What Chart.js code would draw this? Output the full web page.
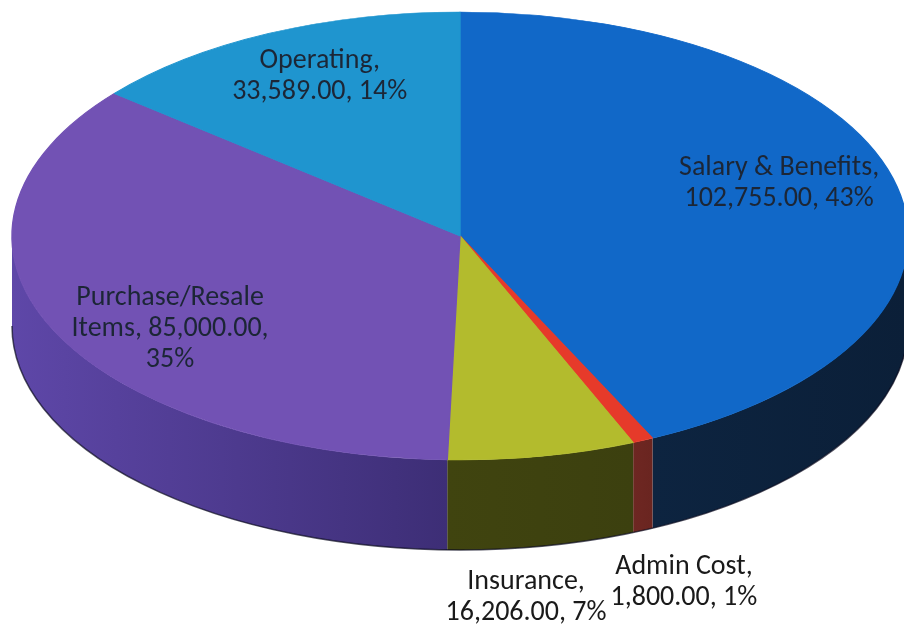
<!doctype html>
<html>
<head>
	<title>Expense Breakdown</title>
	<script src="https://cdn.jsdelivr.net/npm/chart.js@4.4.1/dist/chart.umd.min.js"></script>
	<style>
	html, body {
		margin: 0;
		padding: 0;
		background: #ffffff;
	}
	#container {
		width: 904px;
		height: 629px;
	}
	</style>
</head>
<body>
	<div id="container">
		<canvas id="canvas"></canvas>
	</div>
	<script>
		var categories = ['Salary & Benefits', 'Admin Cost', 'Insurance', 'Purchase/Resale Items', 'Operating'];
		var amounts = [102755, 1800, 16206, 85000, 33589];
		var percents = ['43%', '1%', '7%', '35%', '14%'];

		var topColors = ['#1168c8', '#e63a2a', '#b3bb2d', '#7252b4', '#1f95cf'];
		var sideColors = [
			['#0d2440', '#0b1f38'],
			['#6e2722', '#6a2520'],
			['#40440f', '#3c400f'],
			['#5e47a8', '#3d2e76'],
			['#15678f', '#15678f']
		];

		// where the tilted pie sits on the page
		var pie3d = {
			cx: 460,
			cy: 236,
			rx: 448,
			ry: 224,
			depth: 90
		};

		// small slices are labelled under the pie, the rest inside
		var labelNudge = [[-13, -15], [41, 52], [-16, 51], [20, 23], [5, -6]];

		var FONT = '28px Carlito, Lato, sans-serif';

		function fmt(v) {
			return v.toLocaleString('en-US', {minimumFractionDigits: 2, maximumFractionDigits: 2});
		}

		function wrap(ctx, text, maxWidth) {
			var words = text.split(' ');
			var lines = [];
			var line = '';
			words.forEach(function(w) {
				var test = line ? line + ' ' + w : w;
				if (line && ctx.measureText(test).width > maxWidth) {
					lines.push(line);
					line = w;
				} else {
					line = test;
				}
			});
			if (line) {
				lines.push(line);
			}
			return lines;
		}

		var tiltPlugin = {
			id: 'tilt',
			beforeDatasetsDraw: function(chart) {
				var ctx = chart.ctx;
				var arcs = chart.getDatasetMeta(0).data;
				var p = pie3d;

				// side walls on the front half of the ellipse
				arcs.forEach(function(arc, i) {
					var t0 = Math.max(arc.startAngle, 0);
					var t1 = Math.min(arc.endAngle, Math.PI);
					if (t1 <= t0) {
						return;
					}
					var x0 = p.cx + p.rx * Math.cos(t1);
					var x1 = p.cx + p.rx * Math.cos(t0);
					var grad = ctx.createLinearGradient(Math.min(x0, x1), 0, Math.max(x0, x1), 0);
					grad.addColorStop(0, sideColors[i][0]);
					grad.addColorStop(1, sideColors[i][1]);
					ctx.save();
					ctx.beginPath();
					ctx.ellipse(p.cx, p.cy, p.rx, p.ry, 0, t0, t1, false);
					ctx.ellipse(p.cx, p.cy + p.depth, p.rx, p.ry, 0, t1, t0, true);
					ctx.closePath();
					ctx.fillStyle = grad;
					ctx.fill();
					ctx.restore();
				});

				// thin dark rim along the bottom edge
				ctx.save();
				ctx.beginPath();
				ctx.ellipse(p.cx, p.cy + p.depth, p.rx, p.ry, 0, 0, Math.PI, false);
				ctx.strokeStyle = 'rgba(10,10,30,0.7)';
				ctx.lineWidth = 1.5;
				ctx.stroke();
				ctx.restore();

				// squash the round pie into the top face
				var a = arcs[0];
				ctx.save();
				ctx.translate(p.cx, p.cy);
				ctx.scale(p.rx / a.outerRadius, p.ry / a.outerRadius);
				ctx.translate(-a.x, -a.y);
			},
			afterDatasetsDraw: function(chart) {
				var ctx = chart.ctx;
				ctx.restore();

				var arcs = chart.getDatasetMeta(0).data;
				var total = amounts.reduce(function(s, v) { return s + v; }, 0);
				var p = pie3d;

				ctx.save();
				ctx.font = FONT;
				ctx.textAlign = 'center';
				ctx.textBaseline = 'middle';
				arcs.forEach(function(arc, i) {
					var mid = (arc.startAngle + arc.endAngle) / 2;
					var inside = amounts[i] / total >= 0.1;
					var x, y;
					if (inside) {
						x = p.cx + p.rx * 0.76 * Math.cos(mid);
						y = p.cy + p.ry * 0.76 * Math.sin(mid);
						ctx.fillStyle = '#1c2636';
					} else {
						x = p.cx + p.rx * Math.cos(mid);
						y = p.cy + p.ry * Math.sin(mid) + p.depth;
						ctx.fillStyle = '#1a1a1a';
					}
					x += labelNudge[i][0];
					y += labelNudge[i][1];
					var text = categories[i] + ', ' + fmt(amounts[i]) + ', ' + percents[i];
					var lines = wrap(ctx, text, 215);
					var lh = 31;
					var y0 = y - (lines.length - 1) * lh / 2;
					lines.forEach(function(l, k) {
						ctx.fillText(l, x, y0 + k * lh);
					});
				});
				ctx.restore();
			}
		};

		window.onload = function() {
			var ctx = document.getElementById('canvas').getContext('2d');
			window.myPie = new Chart(ctx, {
				type: 'pie',
				data: {
					labels: categories,
					datasets: [{
						data: amounts,
						backgroundColor: topColors,
						borderColor: topColors,
						borderWidth: 1,
						clip: false
					}]
				},
				options: {
					responsive: true,
					maintainAspectRatio: false,
					animation: false,
					events: [],
					layout: {padding: 0},
					plugins: {
						legend: {display: false},
						tooltip: {enabled: false}
					}
				},
				plugins: [tiltPlugin]
			});
		};
	</script>
</body>
</html>
